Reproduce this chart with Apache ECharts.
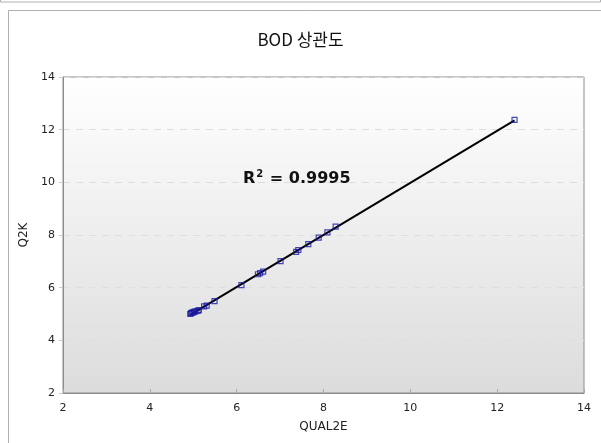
<!DOCTYPE html>
<html><head><meta charset="utf-8">
<script src="https://cdn.jsdelivr.net/npm/echarts@6/dist/echarts.min.js"></script>
<style>html,body{margin:0;padding:0;background:#fff}#c{width:601px;height:443px}</style>
</head><body><div id="c"></div>
<script>
const title = 'BOD 상관도';
const xName = 'QUAL2E';
const yName = 'Q2K';
const qual2e = [4.93, 4.95, 4.97, 5.0, 5.02, 5.05, 5.1, 5.13, 5.25, 5.31, 5.49, 6.11, 6.49, 6.54, 6.61, 7.01, 7.37, 7.42, 7.65, 7.89, 8.09, 8.28, 12.4];
const q2k    = [5.0, 5.03, 5.05, 5.06, 5.08, 5.1, 5.12, 5.15, 5.29, 5.32, 5.49, 6.10, 6.51, 6.55, 6.61, 7.01, 7.36, 7.43, 7.65, 7.90, 8.10, 8.32, 12.37];
const r2Text = '0.9995';
const axisTicks = [2, 4, 6, 8, 10, 12, 14];

const pts = qual2e.map((x, i) => [x, q2k[i]]);
// least-squares trendline
const n = pts.length;
const mx = qual2e.reduce((a, b) => a + b, 0) / n;
const my = q2k.reduce((a, b) => a + b, 0) / n;
let sxy = 0, sxx = 0;
for (let i = 0; i < n; i++) { sxy += (qual2e[i] - mx) * (q2k[i] - my); sxx += (qual2e[i] - mx) ** 2; }
const slope = sxy / sxx, icpt = my - slope * mx;
const xmin = Math.min(...qual2e), xmax = Math.max(...qual2e);
const trend = [[xmin, icpt + slope * xmin], [xmax, icpt + slope * xmax]];

const chart = echarts.init(document.getElementById('c'), null, {renderer: 'canvas'});
const font = 'DejaVu Sans, Verdana, sans-serif';
const axisCommon = {
  min: axisTicks[0], max: axisTicks[axisTicks.length - 1], interval: 2,
  nameLocation: 'middle',
  nameTextStyle: {fontFamily: font, fontSize: 12, color: '#222'},
  axisLine: {show: true, lineStyle: {color: '#8c8c8c', width: 1}},
  axisTick: {show: true, inside: true, length: 4, lineStyle: {color: '#aaa'}},
  axisLabel: {fontFamily: font, fontSize: 11, color: '#222'},
};
chart.setOption({
  animation: false,
  graphic: [
    {type: 'rect', shape: {x: 0.5, y: -10, width: 600, height: 12}, style: {fill: 'none', stroke: '#b0b0b0', lineWidth: 1}, z: 0},
    {type: 'rect', shape: {x: 8.5, y: 10.5, width: 600, height: 440}, style: {fill: 'none', stroke: '#b0b0b0', lineWidth: 1}, z: 0},
    {type: 'text', left: 243, top: 169, z: 100,
     style: {
       text: '{a|R}{s|2}{a| = ' + r2Text + '}',
       rich: {
         a: {fontFamily: font, fontSize: 16, fontWeight: 'bold', fill: '#111', lineHeight: 22},
         s: {fontFamily: font, fontSize: 10, fontWeight: 'bold', fill: '#111', lineHeight: 22, padding: [0, 1, 10, 1]}
       }
     }}
  ],
  title: {text: title, left: 'center', top: 26,
    textStyle: {fontFamily: 'Noto Sans CJK KR, sans-serif', fontSize: 17, fontWeight: 'normal', color: '#111'}},
  grid: {left: 63, right: 17, top: 77, bottom: 50, show: true, borderColor: '#8c8c8c', borderWidth: 1,
    backgroundColor: new echarts.graphic.LinearGradient(0, 0, 0, 1, [{offset: 0, color: '#ffffff'}, {offset: 1, color: '#dcdcdc'}])},
  xAxis: Object.assign({}, axisCommon, {type: 'value', name: xName, nameGap: 28,
    axisLabel: Object.assign({}, axisCommon.axisLabel, {margin: 10}),
    splitLine: {show: false}}),
  yAxis: Object.assign({}, axisCommon, {type: 'value', name: yName, nameGap: 29,
    axisTick: {show: true, inside: false, length: 4, lineStyle: {color: '#ccc'}},
    axisLabel: Object.assign({}, axisCommon.axisLabel, {margin: 8}),
    splitLine: {show: true, lineStyle: {color: '#dedede', type: [7, 6], width: 1}}}),
  series: [
    {type: 'line', data: trend, symbol: 'none', lineStyle: {color: '#000', width: 2}, z: 2, silent: true},
    {type: 'scatter', data: pts, symbol: 'rect', symbolSize: 5,
     itemStyle: {color: 'rgba(255,255,255,0)', borderColor: '#1a1aa0', borderWidth: 1.2}, z: 3}
  ]
});
</script></body></html>
